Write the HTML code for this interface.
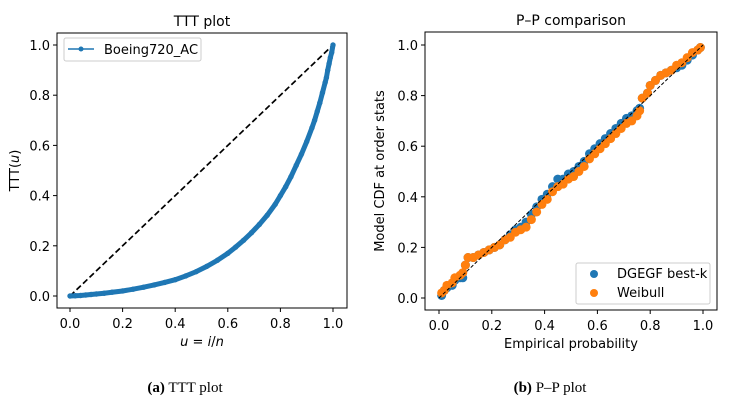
<!DOCTYPE html>
<html><head><meta charset="utf-8"><style>
body{margin:0;background:#fff;width:741px;height:403px;overflow:hidden}
svg{font-family:"DejaVu Sans","Liberation Sans",sans-serif}
</style></head><body>
<svg id="s" width="741" height="403" xmlns="http://www.w3.org/2000/svg">
<g id="left"></g>
<g id="right"></g>
<text x="185" y="392" text-anchor="middle" font-family="Liberation Serif,serif" font-size="15"><tspan font-weight="bold">(a)</tspan> TTT plot</text>
<text x="550" y="392" text-anchor="middle" font-family="Liberation Serif,serif" font-size="15"><tspan font-weight="bold">(b)</tspan> P–P plot</text>
</svg>
<script>
const tttU=[0,0.02,0.04,0.06,0.08,0.1,0.13,0.16,0.2,0.24,0.28,0.32,0.36,0.4,0.44,0.48,0.52,0.56,0.6,0.63,0.66,0.69,0.72,0.75,0.78,0.8,0.82,0.84,0.86,0.88,0.9,0.92,0.93,0.94,0.95,0.96,0.97,0.975,0.98,0.985,0.99,0.995,1.0];
const tttV=[0,0.001,0.002,0.004,0.006,0.008,0.011,0.015,0.02,0.027,0.035,0.044,0.054,0.065,0.08,0.097,0.118,0.142,0.17,0.195,0.222,0.252,0.285,0.322,0.365,0.4,0.435,0.475,0.52,0.565,0.615,0.67,0.7,0.735,0.77,0.81,0.85,0.87,0.9,0.925,0.95,0.97,1.0];
const ppX=[0.01,0.02,0.03,0.05,0.06,0.08,0.09,0.1,0.11,0.13,0.15,0.17,0.19,0.21,0.23,0.25,0.27,0.29,0.31,0.33,0.35,0.37,0.39,0.41,0.43,0.45,0.47,0.49,0.51,0.53,0.55,0.57,0.59,0.61,0.63,0.65,0.67,0.69,0.71,0.73,0.75,0.76,0.77,0.79,0.8,0.82,0.84,0.86,0.88,0.9,0.92,0.94,0.96,0.98,0.99];
const dgegfY=[0.01,0.03,0.04,0.05,0.07,0.08,0.08,0.13,0.16,0.16,0.17,0.18,0.19,0.2,0.21,0.23,0.25,0.27,0.28,0.3,0.33,0.36,0.39,0.41,0.44,0.47,0.47,0.49,0.5,0.52,0.54,0.57,0.59,0.61,0.63,0.65,0.67,0.69,0.71,0.72,0.74,0.75,0.79,0.81,0.84,0.86,0.88,0.89,0.9,0.91,0.92,0.94,0.96,0.98,0.99];
const weibullY=[0.02,0.03,0.05,0.06,0.08,0.09,0.1,0.13,0.16,0.16,0.17,0.18,0.19,0.2,0.21,0.23,0.24,0.26,0.27,0.28,0.31,0.34,0.37,0.39,0.42,0.44,0.45,0.47,0.48,0.5,0.52,0.55,0.57,0.59,0.61,0.63,0.65,0.67,0.69,0.7,0.72,0.74,0.79,0.81,0.84,0.86,0.88,0.89,0.9,0.92,0.93,0.95,0.97,0.98,0.99];
const ticks=[0,0.2,0.4,0.6,0.8,1.0];
const NS="http://www.w3.org/2000/svg";
function mk(p,t,a){const e=document.createElementNS(NS,t);for(const k in a)e.setAttribute(k,a[k]);p.appendChild(e);return e;}
function axes(g,box,sx,sy,title,xl,yl,yoff){
  const f=mk(g,'rect',{x:box[0],y:box[1],width:box[2]-box[0],height:box[3]-box[1],fill:'none',stroke:'#000','stroke-width':1});
  
  ticks.forEach(v=>{
    mk(g,'line',{x1:sx(v),x2:sx(v),y1:box[3],y2:box[3]+4,stroke:'#000'});
    const t=mk(g,'text',{x:sx(v),y:box[3]+20,'text-anchor':'middle','font-size':13});t.textContent=v.toFixed(1);
    
    mk(g,'line',{x1:box[0]-4,x2:box[0],y1:sy(v),y2:sy(v),stroke:'#000'});
    const u=mk(g,'text',{x:box[0]-7,y:sy(v)+5,'text-anchor':'end','font-size':13});u.textContent=v.toFixed(1);
    
  });
  const ti=mk(g,'text',{x:(box[0]+box[2])/2,y:box[1]-7,'text-anchor':'middle','font-size':14});ti.textContent=title;
  
  const xt=mk(g,'text',{x:(box[0]+box[2])/2,y:box[3]+38,'text-anchor':'middle','font-size':13});xt.innerHTML=xl;
  
  const cy=(box[1]+box[3])/2;
  const yt=mk(g,'text',{x:0,y:0,'text-anchor':'middle','font-size':13,transform:`translate(${box[0]-yoff},${cy}) rotate(-90)`});yt.innerHTML=yl;
  
}
// left
const L=document.getElementById('left');
const lx=v=>70+v*263, ly=v=>296-v*251;
axes(L,[57,33,347,308],lx,ly,'TTT plot','<tspan font-style="italic">u</tspan> = <tspan font-style="italic">i</tspan>/<tspan font-style="italic">n</tspan>','TTT(<tspan font-style="italic">u</tspan>)',38);
const dl=mk(L,'line',{x1:lx(0),y1:ly(0),x2:lx(1),y2:ly(1),stroke:'#000','stroke-width':1.7,'stroke-dasharray':'6,3'});

const tl=mk(L,'polyline',{points:tttU.map((u,i)=>lx(u)+','+ly(tttV[i])).join(' '),fill:'none',stroke:'#1f77b4','stroke-width':5});

tttU.forEach((u,i)=>{const c=mk(L,'circle',{cx:lx(u),cy:ly(tttV[i]),r:2.7,fill:'#1f77b4'});
});
const lg=mk(L,'g',{});
mk(lg,'rect',{x:64,y:38,width:137,height:23,rx:2,fill:'#fff',stroke:'#ccc'});
mk(lg,'line',{x1:68,x2:94,y1:49,y2:49,stroke:'#1f77b4','stroke-width':1.5});
mk(lg,'circle',{cx:81,cy:49,r:2.5,fill:'#1f77b4'});
const lt=mk(lg,'text',{x:104,y:54,'font-size':13});lt.textContent='Boeing720_AC';
// right
const R=document.getElementById('right');
const rx=v=>439+v*264, ry=v=>298-v*253;
axes(R,[425,32,717,310],rx,ry,'P–P comparison','Empirical probability','Model CDF at order stats',41);
dgegfY.forEach((y,i)=>{const c=mk(R,'circle',{cx:rx(ppX[i]),cy:ry(y),r:4.5,fill:'#1f77b4'});
});
weibullY.forEach((y,i)=>{const c=mk(R,'circle',{cx:rx(ppX[i]),cy:ry(y),r:4.5,fill:'#ff7f0e'});
});
const rd=mk(R,'line',{x1:rx(0),y1:ry(0),x2:rx(1),y2:ry(1),stroke:'#000','stroke-width':1,'stroke-dasharray':'3.5,2'});

const rg=mk(R,'g',{});
mk(rg,'rect',{x:576,y:263,width:134,height:41,rx:2,fill:'#fff',stroke:'#ccc'});
mk(rg,'circle',{cx:594,cy:274,r:4,fill:'#1f77b4'});
mk(rg,'circle',{cx:594,cy:293,r:4,fill:'#ff7f0e'});
const a1=mk(rg,'text',{x:617,y:278,'font-size':13});a1.textContent='DGEGF best-k';
const a2=mk(rg,'text',{x:617,y:297,'font-size':13});a2.textContent='Weibull';
</script>
</body></html>
